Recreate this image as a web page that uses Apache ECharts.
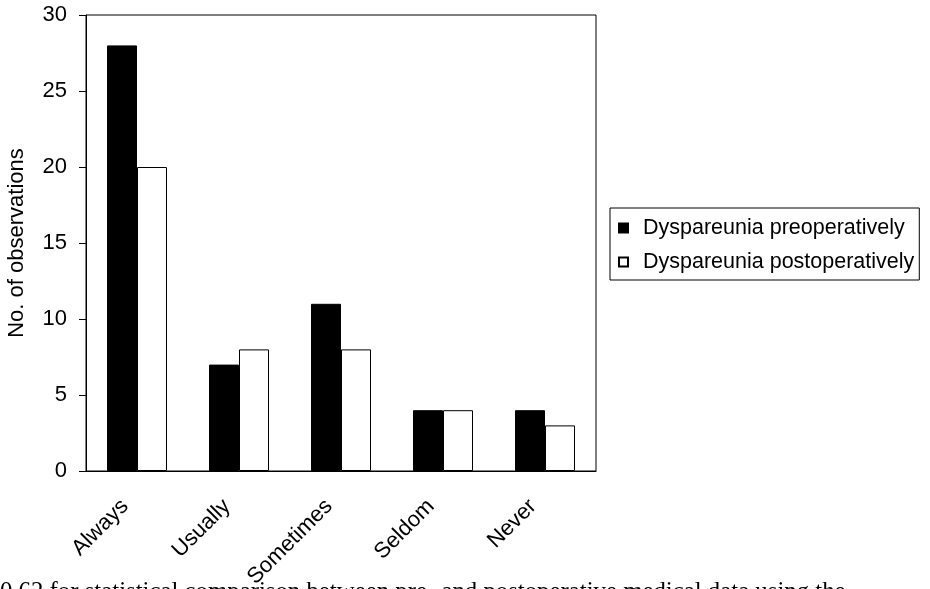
<!DOCTYPE html>
<html><head><meta charset="utf-8">
<script src="https://cdn.jsdelivr.net/npm/echarts@6/dist/echarts.min.js"></script>
<style>html,body{margin:0;padding:0;background:#fff}#c{width:930px;height:589px}</style>
</head><body><div id="c"></div>
<script>
const categories = ['Always', 'Usually', 'Sometimes', 'Seldom', 'Never'];
const preop = [28, 7, 11, 4, 4];
const postop = [20, 8, 8, 4, 3];
const seriesNames = ['Dyspareunia preoperatively', 'Dyspareunia postoperatively'];
const yTicks = [0, 5, 10, 15, 20, 25, 30];
const yAxisTitle = 'No. of observations';
const caption = '0.62 for statistical comparison between pre- and postoperative medical data using the';

const font = '"Liberation Sans", Arial, sans-serif';
const chart = echarts.init(document.getElementById('c'));
chart.setOption({
  animation: false,
  backgroundColor: '#fff',
  grid: { left: 86, right: 334, top: 15, bottom: 118, show: true, borderColor: '#000', borderWidth: 1,
          containLabel: false, outerBoundsMode: 'none' },
  legend: {
    orient: 'vertical', left: 610, top: 208,
    data: seriesNames,
    borderColor: '#000', borderWidth: 1,
    padding: [7, 5, 5, 8],
    itemWidth: 9, itemHeight: 9, itemGap: 8,
    icon: 'rect',
    textStyle: { fontFamily: font, fontSize: 21.5, color: '#000', lineHeight: 26, padding: [0, 0, 0, 10] }
  },
  xAxis: {
    type: 'category', data: categories,
    axisLine: { lineStyle: { color: '#000', width: 1 } },
    axisTick: { show: false },
    axisLabel: { rotate: 45, fontFamily: font, fontSize: 22, color: '#000', margin: 20, interval: 0, padding: [0, 17, 0, 0] }
  },
  yAxis: {
    type: 'value', min: yTicks[0], max: yTicks[yTicks.length - 1], interval: 5,
    name: yAxisTitle, nameLocation: 'middle', nameGap: 58,
    nameTextStyle: { fontFamily: font, fontSize: 22, color: '#000' },
    axisLine: { show: true, lineStyle: { color: '#000', width: 1 } },
    axisTick: { show: true, length: 7, lineStyle: { color: '#000' } },
    splitLine: { show: false },
    axisLabel: { fontFamily: font, fontSize: 22, color: '#000', margin: 19 }
  },
  series: [
    { name: seriesNames[0], type: 'bar', data: preop, barWidth: 30, barGap: '0%',
      itemStyle: { color: '#000', borderColor: '#000', borderWidth: 1 } },
    { name: seriesNames[1], type: 'bar', data: postop, barWidth: 30, barGap: '0%',
      itemStyle: { color: '#fff', borderColor: '#000', borderWidth: 1 } }
  ],
  graphic: [{
    type: 'text', left: 0, top: 580, silent: true,
    style: { text: caption, font: '24.8px "Liberation Serif", "Times New Roman", serif', fill: '#000' }
  }]
});
</script></body></html>
